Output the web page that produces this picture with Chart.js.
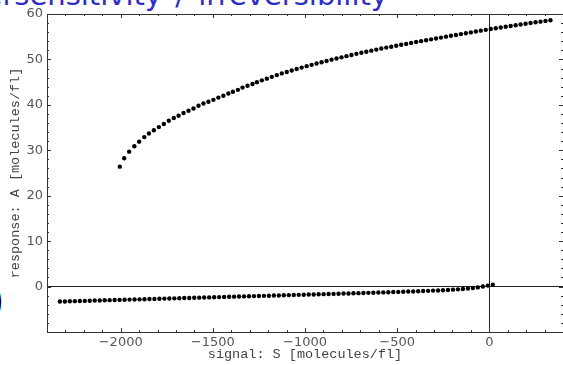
<!DOCTYPE html>
<html>
<head>
<meta charset="utf-8">
<script src="https://cdn.jsdelivr.net/npm/chart.js@4.4.1/dist/chart.umd.min.js"></script>
<style>
  html, body { margin: 0; padding: 0; background: #fff; overflow: hidden; width: 563px; height: 365px; }
  #wrap { position: absolute; left: 0; top: 0; width: 566px; height: 365px; }
  #title { position: absolute; right: 175px; top: -19px; font-family: "DejaVu Sans", sans-serif; font-size: 29px; word-spacing: 4px; line-height: 1; color: #2e2ec6; white-space: nowrap; }
  #paren { position: absolute; left: -11px; top: 281px; font-family: "DejaVu Sans", sans-serif; font-size: 42px; font-weight: 300; line-height: 1; color: #000; }
</style>
</head>
<body>
<div id="title">Hypersensitivity / irreversibility</div>
<div id="paren">)</div>
<div id="wrap"><canvas id="chart" width="566" height="365"></canvas></div>
<script>
// tick labels shown on the frame
const xTickLabels = [-2000, -1500, -1000, -500, 0];
const yTickLabels = [0, 10, 20, 30, 40, 50, 60];

// upper (high) branch: signal S, response A
const upperS = [-2005, -1981, -1954, -1926, -1900, -1872, -1847, -1820, -1793, -1766, -1739, -1712, -1686, -1659, -1632,
  -1605, -1578, -1551, -1524, -1497, -1470, -1443, -1416, -1391, -1364, -1339, -1312, -1285, -1261,
  -1234, -1207, -1180, -1153, -1126, -1099, -1072, -1045, -1018, -991, -964, -937, -910, -883, -856,
  -829, -802, -775, -748, -721, -694, -667, -640, -613, -586, -559, -532, -505, -478, -451,
  -424, -397, -370, -343, -316, -289, -262, -235, -208, -181, -154, -127, -100, -73, -46,
  -19, 8, 35, 62, 89, 116, 143, 170, 197, 224, 251, 278, 305, 332];
const upperA = [26.4, 28.25, 29.7, 30.9, 31.9, 32.9, 33.7, 34.4, 35.1, 35.8, 36.5, 37.1, 37.6, 38.2, 38.7,
  39.2, 39.8, 40.3, 40.7, 41.1, 41.6, 42.0, 42.5, 42.9, 43.3, 43.8, 44.2, 44.6, 45.0,
  45.39, 45.77, 46.16, 46.55, 46.92, 47.24, 47.56, 47.88, 48.20, 48.52, 48.81, 49.09, 49.38, 49.67, 49.95,
  50.20, 50.46, 50.72, 50.97, 51.23, 51.46, 51.69, 51.93, 52.16, 52.39, 52.60, 52.80, 53.01, 53.22, 53.42,
  53.62, 53.82, 54.02, 54.22, 54.42, 54.61, 54.81, 55.01, 55.20, 55.39, 55.58, 55.76, 55.95, 56.14, 56.33,
  56.51, 56.69, 56.86, 57.03, 57.20, 57.37, 57.53, 57.70, 57.86, 58.01, 58.17, 58.32, 58.48, 58.64];

// lower (low) branch
const lowerS = [-2330, -2303, -2276, -2249, -2222, -2195, -2168, -2141, -2114, -2087, -2060, -2033, -2006, -1979, -1952,
  -1925, -1898, -1871, -1844, -1817, -1790, -1763, -1736, -1709, -1682, -1655, -1628, -1601, -1574, -1547,
  -1520, -1493, -1466, -1439, -1412, -1385, -1358, -1331, -1304, -1277, -1250, -1223, -1196, -1169, -1142,
  -1115, -1088, -1061, -1034, -1007, -980, -953, -926, -899, -872, -845, -818, -791, -764, -737,
  -710, -683, -656, -629, -602, -575, -548, -521, -494, -467, -440, -413, -386, -359, -332,
  -305, -278, -251, -224, -197, -170, -143, -116, -89, -62, -35, -8, 19];
const lowerA = [-3.30, -3.27, -3.24, -3.21, -3.18, -3.15, -3.12, -3.08, -3.05, -3.02, -2.99, -2.96, -2.93, -2.90, -2.87,
  -2.84, -2.81, -2.78, -2.75, -2.72, -2.68, -2.65, -2.62, -2.59, -2.56, -2.53, -2.50, -2.47, -2.44, -2.41,
  -2.38, -2.35, -2.32, -2.28, -2.25, -2.22, -2.19, -2.16, -2.13, -2.10, -2.07, -2.04, -2.01, -1.98, -1.95,
  -1.91, -1.88, -1.85, -1.82, -1.79, -1.76, -1.73, -1.70, -1.67, -1.64, -1.61, -1.58, -1.54, -1.51, -1.48,
  -1.45, -1.42, -1.38, -1.35, -1.31, -1.28, -1.24, -1.21, -1.17, -1.14, -1.10, -1.07, -1.03, -0.98, -0.94,
  -0.89, -0.85, -0.80, -0.75, -0.68, -0.61, -0.52, -0.43, -0.32, -0.18, 0.00, 0.21, 0.42];

const toPoints = (xs, ys) => xs.map((x, i) => ({ x: x, y: ys[i] }));

const tickFont = { family: 'DejaVu Sans', size: 13 };
const labelFont = { family: 'Liberation Mono', size: 13.5 };
const INK = '#333';

function fmtNum(v) {
  return v < 0 ? '\u2212' + Math.abs(v) : String(v);
}

// frame on all four sides, ticks pointing inward (Mathematica style)
const frameTicks = {
  id: 'frameTicks',
  afterDatasetsDraw(chart) {
    const { ctx, chartArea: a, scales } = chart;
    ctx.save();
    ctx.strokeStyle = INK;
    ctx.lineWidth = 1;
    ctx.beginPath();
    scales.x.ticks.forEach(t => {
      const px = Math.round(scales.x.getPixelForValue(t.value)) + 0.5;
      const len = t.value % 500 === 0 ? 4 : 2;
      ctx.moveTo(px, a.bottom); ctx.lineTo(px, a.bottom - len);
      ctx.moveTo(px, a.top); ctx.lineTo(px, a.top + len);
    });
    scales.y.ticks.forEach(t => {
      const py = Math.round(scales.y.getPixelForValue(t.value)) + 0.5;
      const len = t.value % 10 === 0 ? 4 : 2;
      ctx.moveTo(a.left, py); ctx.lineTo(a.left + len, py);
      ctx.moveTo(a.right, py); ctx.lineTo(a.right - len, py);
    });
    ctx.stroke();
    ctx.strokeRect(Math.round(a.left) + 0.5, Math.round(a.top) + 0.5,
      Math.round(a.right - a.left), Math.round(a.bottom - a.top));
    ctx.restore();
  }
};

new Chart(document.getElementById('chart'), {
  type: 'scatter',
  data: {
    datasets: [
      { label: 'upper', data: toPoints(upperS, upperA) },
      { label: 'lower', data: toPoints(lowerS, lowerA) }
    ]
  },
  options: {
    responsive: false,
    animation: false,
    devicePixelRatio: 1,
    layout: { padding: { top: 14, right: 1, left: 0, bottom: 0 } },
    elements: {
      point: { radius: 2.2, backgroundColor: '#000', borderWidth: 0, hoverRadius: 2.2 }
    },
    plugins: { legend: { display: false }, tooltip: { enabled: false } },
    scales: {
      x: {
        type: 'linear', min: -2400, max: 400,
        afterFit: s => { s.height = 33; },
        ticks: {
          stepSize: 100, autoSkip: false, maxRotation: 0, padding: 3,
          font: tickFont, color: '#555',
          callback: v => xTickLabels.includes(v) ? fmtNum(v) : ''
        },
        grid: {
          drawTicks: false,
          color: c => (c.tick && c.tick.value === 0) ? '#222' : 'rgba(0,0,0,0)'
        },
        border: { display: false },
        title: { display: true, text: 'signal: S [molecules/fl]', font: labelFont, color: '#444', padding: { top: 0, bottom: 2 } }
      },
      y: {
        type: 'linear', min: -10, max: 60,
        afterFit: s => { s.width = 47; },
        ticks: {
          stepSize: 2, autoSkip: false, padding: 4,
          font: tickFont, color: '#555',
          callback: v => yTickLabels.includes(v) ? fmtNum(v) : ''
        },
        grid: {
          drawTicks: false,
          color: c => (c.tick && c.tick.value === 0) ? '#222' : 'rgba(0,0,0,0)'
        },
        border: { display: false },
        title: { display: true, text: 'response: A [molecules/fl]', font: labelFont, color: '#444', padding: { top: 7, bottom: 0 } }
      }
    }
  },
  plugins: [frameTicks]
});
</script>
</body>
</html>
